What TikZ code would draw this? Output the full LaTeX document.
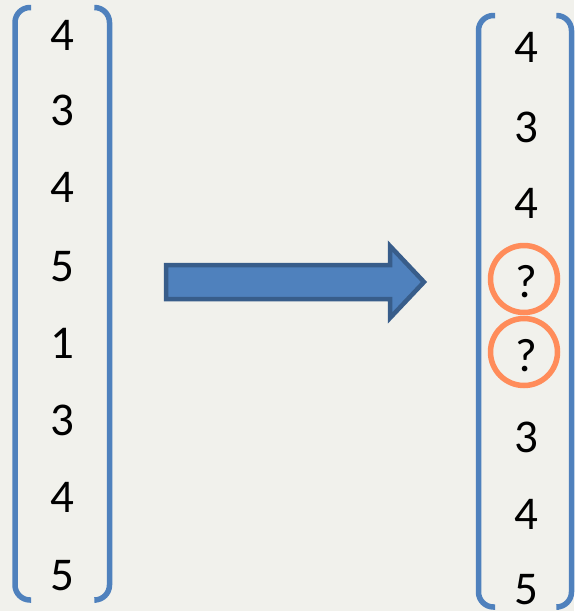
\documentclass[tikz,border=0pt]{standalone}
\usepackage{fontspec}
\setmainfont{Carlito}
\definecolor{bg}{HTML}{F1F1EC}
\definecolor{brk}{HTML}{4F81BD}
\definecolor{arrfill}{HTML}{4F81BD}
\definecolor{arrline}{HTML}{385D8A}
\definecolor{ring}{HTML}{FF8C5A}
\begin{document}
\begin{tikzpicture}[x=1pt,y=-1pt,
  num/.style={inner sep=0pt,font=\fontsize{47}{50}\selectfont},
  bracket/.style={draw=brk,line width=5.5pt,rounded corners=15pt},
  ringstyle/.style={draw=ring,line width=5.5pt,circle,minimum size=67pt,inner sep=0pt}]
\fill[bg] (0,0) rectangle (574,611);
\useasboundingbox (0,0) rectangle (574,611);
% left vector
\draw[bracket] (31,7.5) -- (15,7.5) -- (15,600) -- (31,600);
\draw[bracket] (96,7.5) -- (109.5,7.5) -- (109.5,600) -- (96,600);
\node[num] (l1) at (62,35) {4};
\node[num] (l2) at (62,110) {3};
\node[num] (l3) at (62,187) {4};
\node[num] (l4) at (62,267) {5};
\node[num] (l5) at (62,343) {1};
\node[num] (l6) at (62,420) {3};
\node[num] (l7) at (62,497) {4};
\node[num] (l8) at (62,576) {5};
% right vector
\draw[bracket] (495,15.5) -- (478.5,15.5) -- (478.5,607) -- (495,607);
\draw[bracket] (559,15.5) -- (571.5,15.5) -- (571.5,607) -- (559,607);
\node[num] (r1) at (526,47) {4};
\node[num] (r2) at (526,127) {3};
\node[num] (r3) at (526,203) {4};
\node[num] (r4) at (526,282) {?};
\node[num] (r5) at (526,356) {?};
\node[num] (r6) at (526,437) {3};
\node[num] (r7) at (526,514) {4};
\node[num] (r8) at (526,590) {5};
\node[ringstyle] (c1) at (524,279) {};
\node[ringstyle] (c2) at (524,352) {};
% block arrow
\draw[fill=arrfill,draw=arrline,line width=4.5pt,line join=miter]
  (166,265) -- (390,265) -- (390,246) -- (424,282) -- (390,318) -- (390,299) -- (166,299) -- cycle;
\end{tikzpicture}
\end{document}
